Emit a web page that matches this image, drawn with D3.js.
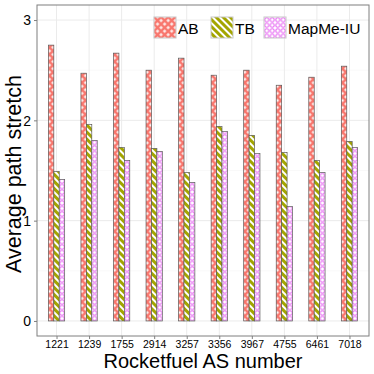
<!DOCTYPE html>
<html>
<head>
<meta charset="utf-8">
<script src="https://cdn.jsdelivr.net/npm/d3@7"></script>
<style>
  body { margin: 0; background: #fff; }
  text { font-family: "Liberation Sans", Arial, sans-serif; }
</style>
</head>
<body>
<div class="chart"></div>
<script>
const asNumbers = ["1221", "1239", "1755", "2914", "3257", "3356", "3967", "4755", "6461", "7018"];
const methods = ["AB", "TB", "MapMe-IU"];
const abValues = [2.75, 2.47, 2.67, 2.50, 2.62, 2.45, 2.50, 2.35, 2.43, 2.54];
const tbValues = [1.49, 1.96, 1.73, 1.72, 1.48, 1.94, 1.85, 1.68, 1.60, 1.79];
const mapmeValues = [1.41, 1.80, 1.60, 1.69, 1.38, 1.89, 1.67, 1.14, 1.48, 1.73];
const yTicks = [0, 1, 2, 3];

makeSVG()

function makeSVG() {
    const svgwidth = 374;
    const svgheight = 374;
    const margin = ({top: 5, right: 5, bottom: 38, left: 37})
    const width = svgwidth - margin.left - margin.right
    const height = svgheight - margin.top - margin.bottom;

    const root = d3.select(".chart").append("svg")
        .attr("width", svgwidth)
        .attr("height", svgheight)

    // patterns for the three methods
    const defs = root.append("defs")
    const pAB = defs.append("pattern").attr("id", "pat-AB")
        .attr("patternUnits", "userSpaceOnUse")
        .attr("width", 5).attr("height", 5)
        .attr("patternTransform", "rotate(45)")
    pAB.append("rect").attr("width", 5).attr("height", 5).attr("fill", "#F8766D")
    pAB.append("rect").attr("x", 1.3).attr("y", 1.3).attr("width", 2.4).attr("height", 2.4).attr("fill", "#fff")

    const pTB = defs.append("pattern").attr("id", "pat-TB")
        .attr("patternUnits", "userSpaceOnUse")
        .attr("width", 5).attr("height", 5)
        .attr("patternTransform", "rotate(-45)")
    pTB.append("rect").attr("width", 5).attr("height", 5).attr("fill", "#A3A500")
    pTB.append("rect").attr("x", 0).attr("width", 2).attr("height", 5).attr("fill", "#fff")

    const pMM = defs.append("pattern").attr("id", "pat-MapMe-IU")
        .attr("patternUnits", "userSpaceOnUse")
        .attr("width", 5.5).attr("height", 5.5)
    pMM.append("rect").attr("width", 5.5).attr("height", 5.5).attr("fill", "#fff")
    pMM.append("circle").attr("cx", 2.75).attr("cy", 2.75).attr("r", 2)
        .attr("fill", "none").attr("stroke", "#E76BF3").attr("stroke-width", 1)

    const svg = root.append("g")
        .attr("transform", "translate(" + margin.left + "," + margin.top + ")");

    const data = asNumbers.map((a, i) => ({
        as: a,
        values: [
            {method: "AB", value: abValues[i]},
            {method: "TB", value: tbValues[i]},
            {method: "MapMe-IU", value: mapmeValues[i]}
        ]
    }))

    const xScale = d3.scalePoint()
        .domain(asNumbers)
        .range([0, width])
        .padding(0.6)
    const yScale = d3.scaleLinear()
        .domain([-0.15, 3.15])
        .range([height, 0])
    const groupWidth = xScale.step() * 0.5
    const xInner = d3.scaleBand()
        .domain(methods)
        .range([-groupWidth / 2, groupWidth / 2])

    // panel grid
    const minorTicks = [0.5, 1.5, 2.5]
    svg.append("g").selectAll("line")
        .data(minorTicks)
        .enter().append("line")
        .attr("x1", 0).attr("x2", width)
        .attr("y1", d => yScale(d)).attr("y2", d => yScale(d))
        .attr("stroke", "#f2f2f2").attr("stroke-width", 0.5)
    svg.append("g").selectAll("line")
        .data(yTicks)
        .enter().append("line")
        .attr("x1", 0).attr("x2", width)
        .attr("y1", d => yScale(d)).attr("y2", d => yScale(d))
        .attr("stroke", "#ebebeb").attr("stroke-width", 1)
    svg.append("g").selectAll("line")
        .data(asNumbers)
        .enter().append("line")
        .attr("x1", d => xScale(d)).attr("x2", d => xScale(d))
        .attr("y1", 0).attr("y2", height)
        .attr("stroke", "#ebebeb").attr("stroke-width", 1)

    // bars
    svg.append("g").selectAll("g")
        .data(data)
        .enter().append("g")
        .attr("transform", d => `translate(${xScale(d.as)},0)`)
        .selectAll("rect")
        .data(d => d.values)
        .enter().append("rect")
        .attr("x", d => xInner(d.method))
        .attr("y", d => yScale(d.value))
        .attr("width", xInner.bandwidth())
        .attr("height", d => yScale(0) - yScale(d.value))
        .attr("fill", d => `url(#pat-${d.method})`)
        .attr("stroke", "#5a5a5a")
        .attr("stroke-width", 0.7)

    // panel border
    svg.append("rect")
        .attr("width", width).attr("height", height)
        .attr("fill", "none").attr("stroke", "#7f7f7f").attr("stroke-width", 1)

    // axes
    const xAxis = d3.axisBottom().scale(xScale).tickSize(3).tickPadding(2)
    const yAxis = d3.axisLeft().scale(yScale).tickValues(yTicks)
        .tickFormat(d3.format("d")).tickSize(3).tickPadding(3)
    const gx = svg.append("g")
        .attr("class", "axis x-axis")
        .attr("transform", `translate(0, ${height})`)
        .call(xAxis)
    gx.select(".domain").remove()
    gx.selectAll("line").attr("stroke", "#7f7f7f")
    gx.selectAll("text").attr("font-size", 10.5).attr("fill", "#000")
    const gy = svg.append("g")
        .attr("class", "axis y-axis")
        .call(yAxis)
    gy.select(".domain").remove()
    gy.selectAll("line").attr("stroke", "#7f7f7f")
    gy.selectAll("text").attr("font-size", 14).attr("fill", "#000").attr("dy", "0.35em")

    // axis labels
    root.append("text")
        .attr("x", margin.left + width / 2)
        .attr("y", 368)
        .attr("text-anchor", "middle")
        .attr("font-size", 20)
        .text("Rocketfuel AS number")
    root.append("text")
        .attr("transform", "translate(21, 174) rotate(-90)")
        .attr("text-anchor", "middle")
        .attr("font-size", 21.5)
        .text("Average path stretch")

    // legend
    const legendX = [154, 211, 264]
    const legend = root.append("g").selectAll("g")
        .data(methods)
        .enter().append("g")
        .attr("transform", (d, i) => `translate(${legendX[i]}, 17)`)
    legend.append("rect")
        .attr("width", 22).attr("height", 21)
        .attr("fill", d => `url(#pat-${d})`)
        .attr("stroke", "#c8c8c8").attr("stroke-width", 1)
    legend.append("text")
        .attr("x", 24).attr("y", 16.5)
        .attr("font-size", 15.5)
        .text(d => d)
}
</script>
</body>
</html>
